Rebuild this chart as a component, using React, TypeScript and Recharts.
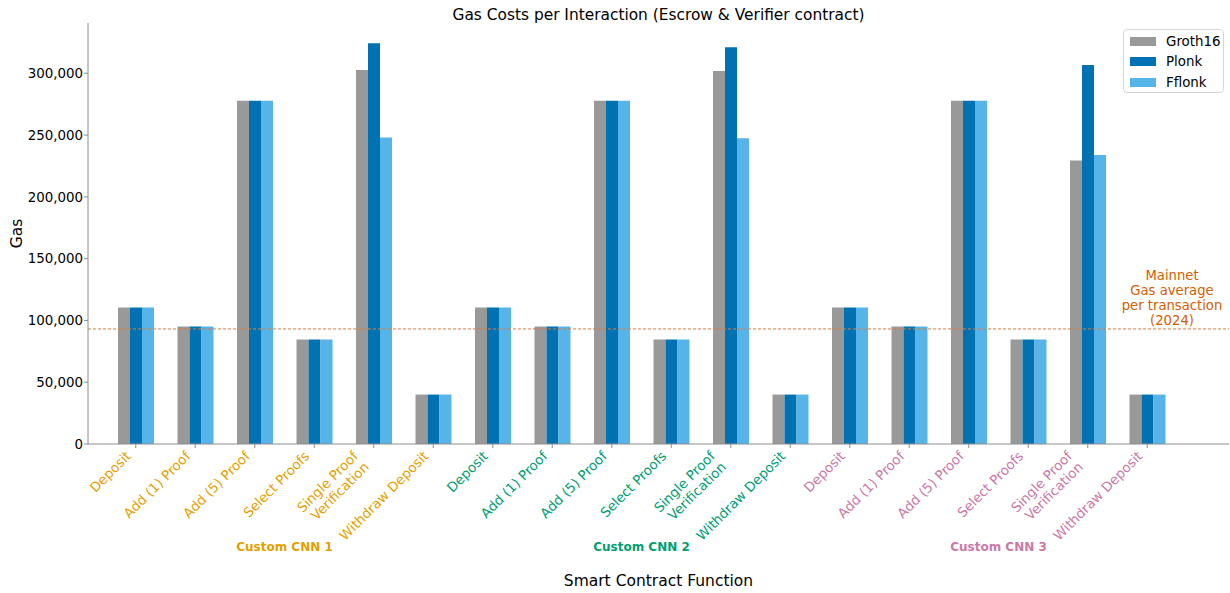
import React from 'react';
import { BarChart, Bar, XAxis, YAxis, ReferenceLine } from 'recharts';

const categories = [
  'Deposit', 'Add (1) Proof', 'Add (5) Proof', 'Select Proofs', 'Single Proof\nVerification', 'Withdraw Deposit',
  'Deposit', 'Add (1) Proof', 'Add (5) Proof', 'Select Proofs', 'Single Proof\nVerification', 'Withdraw Deposit',
  'Deposit', 'Add (1) Proof', 'Add (5) Proof', 'Select Proofs', 'Single Proof\nVerification', 'Withdraw Deposit',
];
const groupOf = [0, 0, 0, 0, 0, 0, 1, 1, 1, 1, 1, 1, 2, 2, 2, 2, 2, 2];
const groupNames = ['Custom CNN 1', 'Custom CNN 2', 'Custom CNN 3'];
const groupColors = ['#E69F00', '#009E73', '#CC79A7'];

const groth16 = [110500, 95000, 277700, 84500, 302700, 40000, 110500, 95000, 277700, 84500, 301900, 40000, 110500, 95000, 277700, 84500, 229400, 40000];
const plonk = [110500, 95000, 277700, 84500, 324300, 40000, 110500, 95000, 277700, 84500, 321100, 40000, 110500, 95000, 277700, 84500, 306800, 40000];
const fflonk = [110500, 95000, 277700, 84500, 248000, 40000, 110500, 95000, 277700, 84500, 247500, 40000, 110500, 95000, 277700, 84500, 233800, 40000];

const yTicks = [0, 50000, 100000, 150000, 200000, 250000, 300000];
const mainnetAverage = 93100;
const annotationLines = ['Mainnet', 'Gas average', 'per transaction', '(2024)'];

const series = [
  { key: 'groth16', name: 'Groth16', color: '#999999' },
  { key: 'plonk', name: 'Plonk', color: '#0072B2' },
  { key: 'fflonk', name: 'Fflonk', color: '#56B4E9' },
];

const data = categories.map((c, i) => ({
  key: String(i),
  groth16: groth16[i],
  plonk: plonk[i],
  fflonk: fflonk[i],
}));

const FONT = '"DejaVu Sans", sans-serif';
const SPINE = '#8c8c8c';
const TICK_FS = 13.4;

const XTick = (props: any) => {
  const { x, y, index, payload } = props;
  const i = typeof index === 'number' ? index : Number(payload?.value);
  const lines = categories[i].split('\n');
  const color = groupColors[groupOf[i]];
  const lh = 15.3;
  const step = lh * Math.SQRT1_2;
  const ax = x - 4 - step * (lines.length - 1);
  const ay = y + 8;
  const off = payload && typeof payload.offset === 'number' && payload.offset > 0 ? payload.offset : 29.75;
  const showGroup = i % 6 === 2;
  return (
    <g>
      <text
        x={ax}
        y={ay}
        textAnchor="end"
        fill={color}
        fontSize={TICK_FS}
        fontFamily={FONT}
        transform={`rotate(-45, ${ax}, ${ay})`}
      >
        {lines.map((l, k) => (
          <tspan key={k} x={ax} dy={k === 0 ? 0 : lh}>{l}</tspan>
        ))}
      </text>
      {showGroup && (
        <text
          x={x + off}
          y={y + 102}
          textAnchor="middle"
          fill={color}
          fontSize={12}
          fontWeight="bold"
          fontFamily={FONT}
        >
          {groupNames[groupOf[i]]}
        </text>
      )}
    </g>
  );
};

const LegendBox = () => (
  <div
    style={{
      position: 'absolute',
      left: 1123,
      top: 29,
      border: '1px solid #d6d6d6',
      borderRadius: 4,
      background: 'rgba(255,255,255,0.8)',
      padding: '1px 6px',
      fontFamily: FONT,
      fontSize: 13.4,
      color: '#000',
      boxSizing: 'border-box',
      width: 101,
      height: 64,
      zIndex: 2,
    }}
  >
    {series.map((s) => (
      <div key={s.key} style={{ display: 'flex', alignItems: 'center', height: 20.5, whiteSpace: 'nowrap' }}>
        <span style={{ display: 'inline-block', flex: 'none', width: 26, height: 9, background: s.color, marginRight: 10 }} />
        <span>{s.name}</span>
      </div>
    ))}
  </div>
);

const AnnotationLabel = (props: any) => {
  const vb = props.viewBox || {};
  const cx = (vb.x ?? 88) + (vb.width ?? 1141) - 57;
  const baseY = vb.y ?? 329;
  return (
    <text textAnchor="middle" fill="#D55E00" fontSize={13.2} fontFamily={FONT}>
      {annotationLines.map((l, k) => (
        <tspan key={k} x={cx} y={baseY - 49 + k * 15}>{l}</tspan>
      ))}
    </text>
  );
};

const GasLabel = (props: any) => {
  const vb = props.viewBox || {};
  const cx = (vb.x ?? 0) + 17;
  const cy = (vb.y ?? 23) + (vb.height ?? 421) / 2;
  return (
    <text
      x={cx}
      y={cy}
      textAnchor="middle"
      dominantBaseline="central"
      fontSize={15.5}
      fontFamily={FONT}
      fill="#000"
      transform={`rotate(-90, ${cx}, ${cy})`}
    >
      Gas
    </text>
  );
};

const XTitle = (props: any) => {
  const vb = props.viewBox || {};
  const cx = (vb.x ?? 88) + (vb.width ?? 1141) / 2;
  return (
    <text x={cx} y={586} textAnchor="middle" fontSize={15.5} fontFamily={FONT} fill="#000">
      Smart Contract Function
    </text>
  );
};

export default function App() {
  return (
    <div style={{ position: 'absolute', left: 0, top: 0, width: 1230, height: 593, background: '#fff', fontFamily: FONT }}>
      <div
        style={{
          position: 'absolute',
          left: 88,
          width: 1141,
          top: 6,
          lineHeight: '18px',
          textAlign: 'center',
          fontSize: 15.4,
          color: '#000',
          fontFamily: FONT,
          zIndex: 2,
        }}
      >
        Gas Costs per Interaction (Escrow &amp; Verifier contract)
      </div>
      <LegendBox />
      <BarChart
        width={1230}
        height={593}
        data={data}
        margin={{ top: 23, right: 1, left: 0, bottom: 0 }}
        barSize={12}
        barGap={0}
      >
        <XAxis
          dataKey="key"
          type="category"
          interval={0}
          height={149}
          padding={{ left: 18, right: 52 }}
          tick={<XTick />}
          tickSize={4}
          tickMargin={1}
          tickLine={{ stroke: SPINE }}
          axisLine={{ stroke: SPINE }}
          label={<XTitle />}
        />
        <XAxis xAxisId="top" orientation="top" dataKey="key" height={0} tick={false} tickLine={false} axisLine={{ stroke: SPINE }} />
        <YAxis
          type="number"
          domain={[0, 340700]}
          ticks={yTicks}
          allowDataOverflow
          width={88}
          tickSize={4}
          tickMargin={1}
          tickFormatter={(v: number) => v.toLocaleString('en-US')}
          tick={{ fill: '#000', fontSize: TICK_FS, fontFamily: FONT }}
          tickLine={{ stroke: SPINE }}
          axisLine={{ stroke: SPINE }}
          label={<GasLabel />}
        />
        <YAxis yAxisId="right" orientation="right" width={0} tick={false} tickLine={false} axisLine={{ stroke: SPINE }} />
        {series.map((s) => (
          <Bar key={s.key} dataKey={s.key} name={s.name} fill={s.color} isAnimationActive={false} />
        ))}
        <ReferenceLine
          y={mainnetAverage}
          stroke="#E07B39"
          strokeWidth={1}
          strokeDasharray="3 2"
          label={<AnnotationLabel />}
        />
      </BarChart>
    </div>
  );
}
